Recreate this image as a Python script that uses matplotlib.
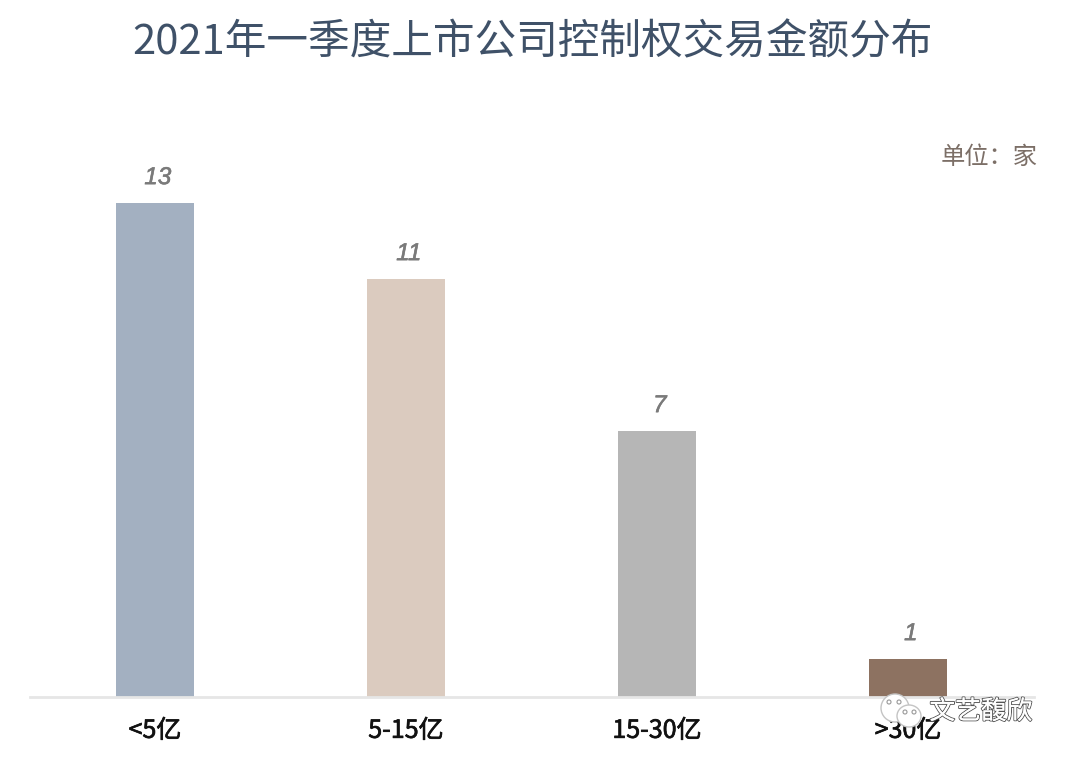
import matplotlib
matplotlib.use("Agg")
import matplotlib.pyplot as plt
import matplotlib.patheffects as pe
from matplotlib.patches import Ellipse

plt.rcParams['font.family'] = ['Noto Sans CJK SC', 'DejaVu Sans']

# Data
categories = ['<5亿', '5-15亿', '15-30亿', '>30亿']
values = [13, 11, 7, 1]
bar_colors = ['#A3B0C1', '#DBCBBF', '#B6B6B6', '#8D7261']

W, H = 1067, 760
fig = plt.figure(figsize=(W / 100, H / 100), dpi=100, facecolor='white')

# axes box in pixels: baseline at y=697, one unit = 38px
ax = fig.add_axes([29.5 / W, 1 - 697 / H, 1004 / W, 532 / H])
ax.set_xlim(-0.5, 3.5)
ax.set_ylim(0, 14)
ax.bar(range(4), values, width=0.311, color=bar_colors)

thicken = [pe.withStroke(linewidth=0.4, foreground='#7A7A7A')]
for i, v in enumerate(values):
    ax.annotate(str(v), (i, v), xytext=(2, 10), textcoords='offset points',
                ha='center', va='bottom', fontsize=17.5, style='italic',
                family='Liberation Sans', color='#7A7A7A', path_effects=thicken)

ax.set_xticks(range(4))
ax.set_xticklabels(categories, fontsize=18, color='#111111',
                   path_effects=[pe.withStroke(linewidth=0.5, foreground='#111111')])
ax.tick_params(axis='x', length=0, pad=15)
ax.set_yticks([])
for s in ['top', 'left', 'right']:
    ax.spines[s].set_visible(False)
ax.spines['bottom'].set_color('#E6E6E6')
ax.spines['bottom'].set_linewidth(2)

fig.text(532 / W, 1 - 43 / H, '2021年一季度上市公司控制权交易金额分布', ha='center', va='center',
         fontsize=30, color='#3F5168')
fig.text(1038 / W, 1 - 157 / H, '单位\uff1a家', ha='right', va='center',
         fontsize=17.5, color='#7C6F67')

# watermark
outline = [pe.withStroke(linewidth=1.4, foreground='#555555'), pe.Normal()]
fig.text(981 / W, 1 - 712 / H, '文艺馥欣', ha='center', va='center', fontsize=18.5,
         color='white', path_effects=outline, zorder=10)
for cx, cy, w, h in [(895, 708, 28, 28), (909, 716, 24, 22)]:
    fig.add_artist(Ellipse((cx / W, 1 - cy / H), w / W, h / H, transform=fig.transFigure,
                           facecolor='white', edgecolor='#C4C4C4', linewidth=1, zorder=11))
for cx, cy in [(889, 702), (899, 702), (905, 712), (914, 712)]:
    fig.add_artist(Ellipse((cx / W, 1 - cy / H), 4 / W, 4 / H, transform=fig.transFigure,
                           facecolor='white', edgecolor='#999999', linewidth=0.8, zorder=12))

fig.savefig('out.png', dpi=100)
